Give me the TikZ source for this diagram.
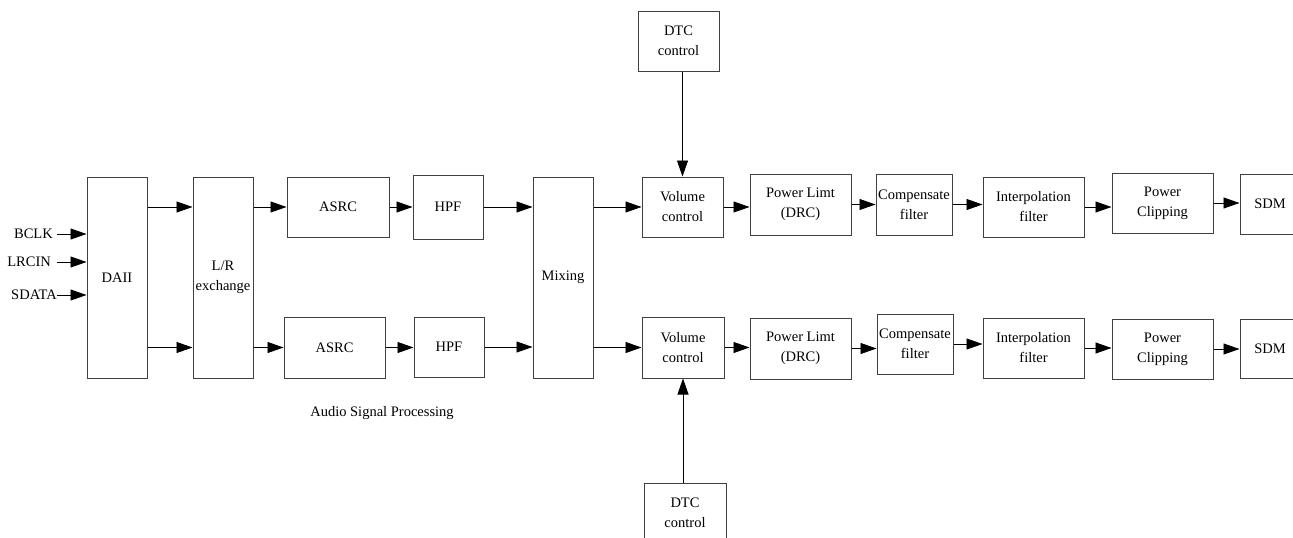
\documentclass[tikz,border=0pt]{standalone}
\usepackage{fontspec}
\setmainfont{Liberation Serif}
\usetikzlibrary{arrows.meta}

\tikzset{
  blk/.style={draw=black!75,line width=1pt,inner sep=1pt,align=center,
    font=\fontsize{14.5}{20}\selectfont},
  tall/.style={blk,minimum width=60pt,minimum height=201pt},
  sig/.style={inner sep=0pt,font=\fontsize{14.5}{20}\selectfont},
  conn/.style={draw=black,line width=0.8pt,-{Triangle[length=16pt,width=11pt]}}
}

\begin{document}
\begin{tikzpicture}[x=1pt,y=-1pt]
   \useasboundingbox (0,0) rectangle (1293,538);
   % input side
   \node[sig,anchor=east] (bclk)  at (53,234) {BCLK};
   \node[sig,anchor=east] (lrcin) at (51,262) {LRCIN};
   \node[sig,anchor=east] (sdata) at (57,295) {SDATA};
   \node[tall] (dai) at (117,277.5) {DAII};
   \node[tall] (lr)  at (223,277.5) {L/R\\exchange};
   \node[tall] (mix) at (563,277.5) {Mixing};
   % upper channel
   \node[blk,minimum width=102pt,minimum height=60pt] (asrcA) at (338,207)    {ASRC};
   \node[blk,minimum width=70pt, minimum height=64pt] (hpfA)  at (448,207)    {HPF};
   \node[blk,minimum width=81pt, minimum height=60pt] (volA)  at (682.5,207)  {Volume\\control};
   \node[blk,minimum width=101pt,minimum height=61pt] (plA)   at (800.5,204.5){Power Limt\\(DRC)};
   \node[blk,minimum width=76pt, minimum height=61pt] (compA) at (914,204.5)  {Compensate\\filter};
   \node[blk,minimum width=101pt,minimum height=60pt] (intA)  at (1033.5,207) {Interpolation\\filter};
   \node[blk,minimum width=101pt,minimum height=60pt] (pcA)   at (1162.5,203) {Power\\Clipping};
   \node[blk,minimum width=60pt, minimum height=60pt] (sdmA)  at (1270,204)   {SDM};
   \node[blk,minimum width=81pt, minimum height=60pt] (dtcA)  at (678.5,41)   {DTC\\control};
   % lower channel
   \node[blk,minimum width=101pt,minimum height=61pt] (asrcB) at (334.5,347.5){ASRC};
   \node[blk,minimum width=70pt, minimum height=60pt] (hpfB)  at (449,347)    {HPF};
   \node[blk,minimum width=82pt, minimum height=61pt] (volB)  at (683,347.5)  {Volume\\control};
   \node[blk,minimum width=101pt,minimum height=61pt] (plB)   at (800.5,348.5){Power Limt\\(DRC)};
   \node[blk,minimum width=76pt, minimum height=60pt] (compB) at (915,344)    {Compensate\\filter};
   \node[blk,minimum width=101pt,minimum height=60pt] (intB)  at (1033.5,348) {Interpolation\\filter};
   \node[blk,minimum width=101pt,minimum height=60pt] (pcB)   at (1162.5,349) {Power\\Clipping};
   \node[blk,minimum width=60pt, minimum height=59pt] (sdmB)  at (1270,348.5) {SDM};
   \node[blk,minimum width=82pt, minimum height=60pt] (dtcB)  at (685,513)    {DTC\\control};
   \node[sig] (caption) at (382,413) {Audio Signal Processing};
   % connectors
   \foreach \s in {bclk,lrcin,sdata}
     \draw[conn] (sdata.east |- \s) -- (dai.west |- \s);
   \foreach \r in {A,B} {
     \draw[conn] (dai.east |- asrc\r) -- (lr.west |- asrc\r);
     \draw[conn] (lr.east |- asrc\r) -- (asrc\r.west);
     \draw[conn] (asrc\r.east) -- (hpf\r.west |- asrc\r.east);
     \draw[conn] (hpf\r.east) -- (mix.west |- hpf\r.east);
     \draw[conn] (mix.east |- vol\r) -- (vol\r.west);
     \foreach \a/\b in {vol/pl,pl/comp,comp/int,int/pc,pc/sdm}
       \draw[conn] (\a\r.east) -- (\b\r.west |- \a\r.east);
   }
   \draw[conn] (dtcA.south -| volA) -- (volA.north);
   \draw[conn] (dtcB.north -| volB) -- (volB.south);
\end{tikzpicture}
\end{document}
